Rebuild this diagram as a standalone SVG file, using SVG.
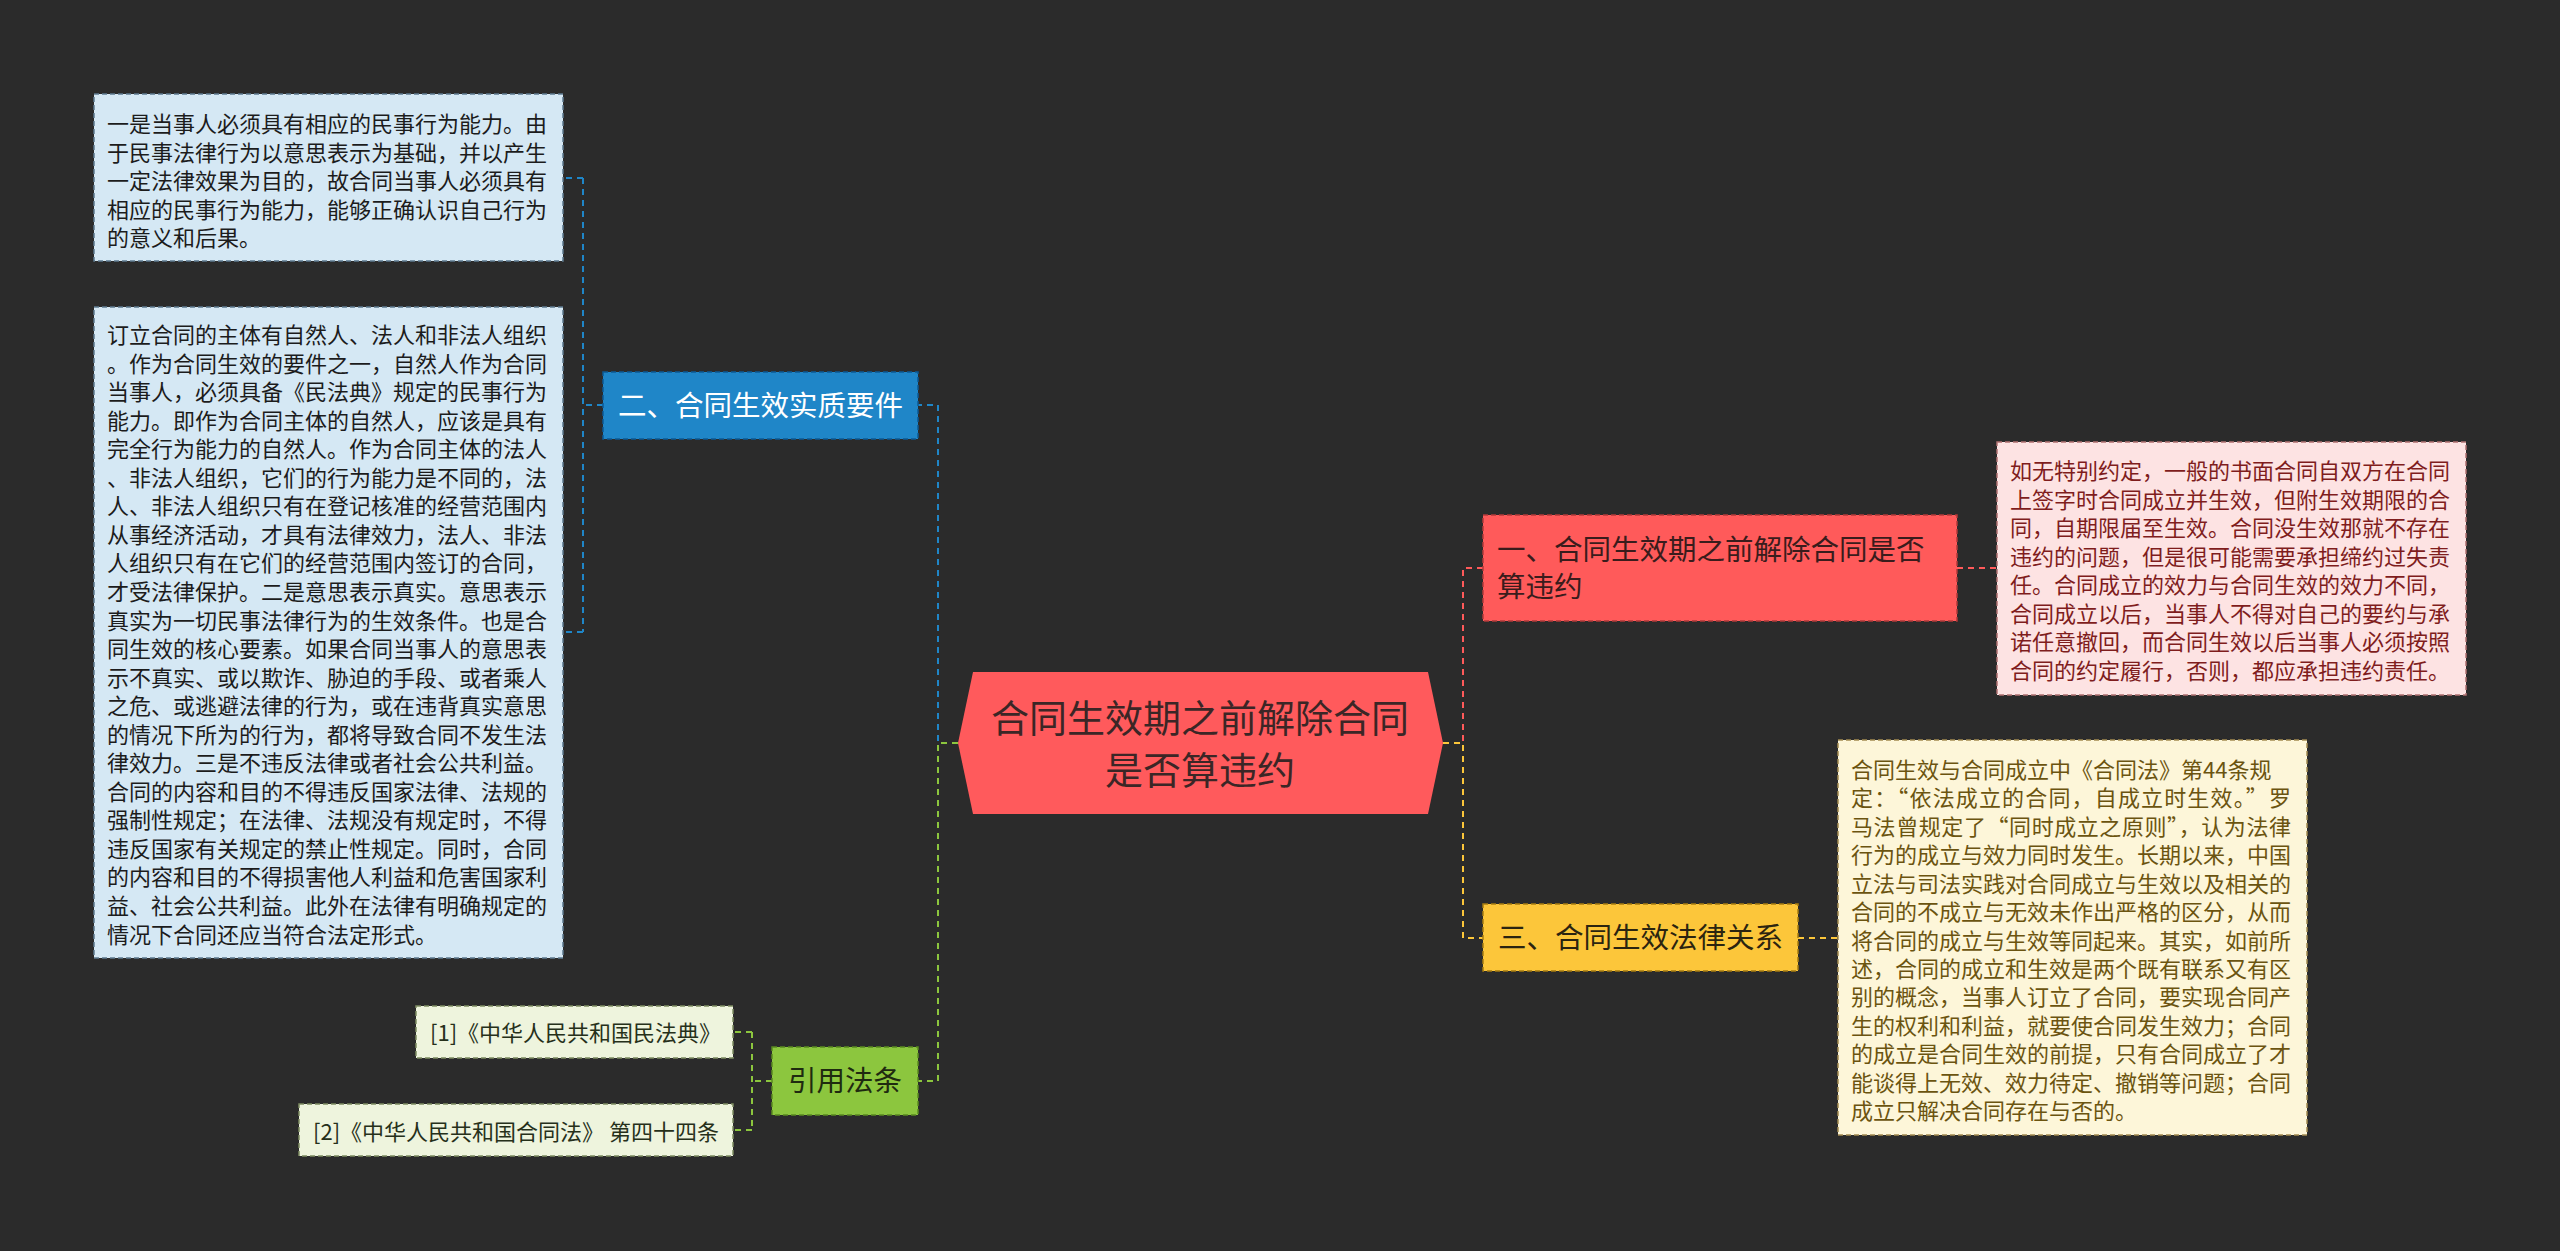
<svg xmlns="http://www.w3.org/2000/svg" width="2560" height="1251" viewBox="0 0 2560 1251">
<style>
text{font-family:"Noto Sans CJK SC","Noto Sans",sans-serif;}
.body{font-size:22px;}
.node{font-size:28.5px;}
.conn{fill:none;stroke-width:2;stroke-dasharray:6 5;}
.bd{stroke-width:1.5;stroke-dasharray:5 3;}
</style>
<rect x="0" y="0" width="2560" height="1251" fill="#2b2b2b"/>
<g id="connectors">
<path class="conn" stroke="#1f86c8" d="M958,743 H938 V405 H918"/>
<path class="conn" stroke="#8cc63e" d="M958,743 H938 V1081 H918"/>
<path class="conn" stroke="#1f86c8" d="M603,405 H583 M583,178 V632 M583,178 H563 M583,632 H563"/>
<path class="conn" stroke="#8cc63e" d="M772,1081 H752 M752,1032 V1130 M752,1032 H733 M752,1130 H733"/>
<path class="conn" stroke="#ff5a5a" d="M1443,743 H1463 V568 H1483"/>
<path class="conn" stroke="#fcc63a" d="M1443,743 H1463 V938 H1483"/>
<path class="conn" stroke="#ff5a5a" d="M1957,568 H1997"/>
<path class="conn" stroke="#fcc63a" d="M1798,938 H1838"/>
</g>
<g id="center">
<polygon points="973,672 1428,672 1443,743 1428,814 973,814 958,743" fill="#ff5a5c"/>
<text x="1200" y="732" font-size="38" fill="#3b2626" text-anchor="middle">合同生效期之前解除合同</text>
<text x="1200" y="784" font-size="38" fill="#3b2626" text-anchor="middle">是否算违约</text>
</g>
<g id="n2">
<rect class="bd" x="603" y="372" width="315" height="67" fill="#1f86c8" stroke="#0d5a94"/>
<text class="node" x="618" y="416" fill="#ffffff">二、合同生效实质要件</text>
</g>
<g id="n2a">
<rect class="bd" x="94" y="94" width="469" height="167" fill="#d5e8f4" stroke="#5d7a8e"/>
<text class="body" fill="#1c1c1c"><tspan x="107" y="132">一是当事人必须具有相应的民事行为能力。由</tspan><tspan x="107" dy="28.5">于民事法律行为以意思表示为基础，并以产生</tspan><tspan x="107" dy="28.5">一定法律效果为目的，故合同当事人必须具有</tspan><tspan x="107" dy="28.5">相应的民事行为能力，能够正确认识自己行为</tspan><tspan x="107" dy="28.5">的意义和后果。</tspan></text>
</g>
<g id="n2b">
<rect class="bd" x="94" y="307" width="469" height="651" fill="#d5e8f4" stroke="#5d7a8e"/>
<text class="body" fill="#1c1c1c"><tspan x="107" y="343">订立合同的主体有自然人、法人和非法人组织</tspan><tspan x="107" dy="28.55">。作为合同生效的要件之一，自然人作为合同</tspan><tspan x="107" dy="28.55">当事人，必须具备《民法典》规定的民事行为</tspan><tspan x="107" dy="28.55">能力。即作为合同主体的自然人，应该是具有</tspan><tspan x="107" dy="28.55">完全行为能力的自然人。作为合同主体的法人</tspan><tspan x="107" dy="28.55">、非法人组织，它们的行为能力是不同的，法</tspan><tspan x="107" dy="28.55">人、非法人组织只有在登记核准的经营范围内</tspan><tspan x="107" dy="28.55">从事经济活动，才具有法律效力，法人、非法</tspan><tspan x="107" dy="28.55">人组织只有在它们的经营范围内签订的合同，</tspan><tspan x="107" dy="28.55">才受法律保护。二是意思表示真实。意思表示</tspan><tspan x="107" dy="28.55">真实为一切民事法律行为的生效条件。也是合</tspan><tspan x="107" dy="28.55">同生效的核心要素。如果合同当事人的意思表</tspan><tspan x="107" dy="28.55">示不真实、或以欺诈、胁迫的手段、或者乘人</tspan><tspan x="107" dy="28.55">之危、或逃避法律的行为，或在违背真实意思</tspan><tspan x="107" dy="28.55">的情况下所为的行为，都将导致合同不发生法</tspan><tspan x="107" dy="28.55">律效力。三是不违反法律或者社会公共利益。</tspan><tspan x="107" dy="28.55">合同的内容和目的不得违反国家法律、法规的</tspan><tspan x="107" dy="28.55">强制性规定；在法律、法规没有规定时，不得</tspan><tspan x="107" dy="28.55">违反国家有关规定的禁止性规定。同时，合同</tspan><tspan x="107" dy="28.55">的内容和目的不得损害他人利益和危害国家利</tspan><tspan x="107" dy="28.55">益、社会公共利益。此外在法律有明确规定的</tspan><tspan x="107" dy="28.55">情况下合同还应当符合法定形式。</tspan></text>
</g>
<g id="n4">
<rect class="bd" x="772" y="1047" width="146" height="68" fill="#8cc63e" stroke="#5a8a20"/>
<text class="node" x="845" y="1091" fill="#1f2a10" text-anchor="middle">引用法条</text>
</g>
<g id="n4a">
<rect class="bd" x="416" y="1006" width="317" height="52" fill="#eef4dd" stroke="#7d8c62"/>
<text class="body" x="430" y="1041" fill="#26301a">[1]《中华人民共和国民法典》</text>
</g>
<g id="n4b">
<rect class="bd" x="299" y="1104" width="434" height="52" fill="#eef4dd" stroke="#7d8c62"/>
<text class="body" x="313" y="1140" fill="#26301a">[2]《中华人民共和国合同法》 第四十四条</text>
</g>
<g id="n1">
<rect class="bd" x="1483" y="515" width="474" height="106" fill="#ff5a5a" stroke="#b03a3a"/>
<text class="node" fill="#3a1c1c"><tspan x="1497" y="560">一、合同生效期之前解除合同是否</tspan><tspan x="1497" y="597">算违约</tspan></text>
</g>
<g id="n1a">
<rect class="bd" x="1997" y="442" width="469" height="253" fill="#fde3e3" stroke="#b07272"/>
<text class="body" fill="#7f1d1d"><tspan x="2010" y="479">如无特别约定，一般的书面合同自双方在合同</tspan><tspan x="2010" dy="28.5">上签字时合同成立并生效，但附生效期限的合</tspan><tspan x="2010" dy="28.5">同，自期限届至生效。合同没生效那就不存在</tspan><tspan x="2010" dy="28.5">违约的问题，但是很可能需要承担缔约过失责</tspan><tspan x="2010" dy="28.5">任。合同成立的效力与合同生效的效力不同，</tspan><tspan x="2010" dy="28.5">合同成立以后，当事人不得对自己的要约与承</tspan><tspan x="2010" dy="28.5">诺任意撤回，而合同生效以后当事人必须按照</tspan><tspan x="2010" dy="28.5">合同的约定履行，否则，都应承担违约责任。</tspan></text>
</g>
<g id="n3">
<rect class="bd" x="1483" y="904" width="315" height="67" fill="#fcc63a" stroke="#a67c10"/>
<text class="node" x="1498" y="948" fill="#2b2410">三、合同生效法律关系</text>
</g>
<g id="n3a">
<rect class="bd" x="1838" y="740" width="469" height="395" fill="#fdf6d9" stroke="#a48c52"/>
<text class="body" fill="#6b5410" x="1851" y="778">合同生效与合同成立中《合同法》第44条规</text>
<text class="body" fill="#6b5410" x="1851" y="806.4" textLength="440" lengthAdjust="spacing">定：“依法成立的合同，自成立时生效。”罗</text>
<text class="body" fill="#6b5410" x="1851" y="834.8" textLength="440" lengthAdjust="spacing">马法曾规定了“同时成立之原则”，认为法律</text>
<text class="body" fill="#6b5410"><tspan x="1851" y="863.3">行为的成立与效力同时发生。长期以来，中国</tspan><tspan x="1851" dy="28.42">立法与司法实践对合同成立与生效以及相关的</tspan><tspan x="1851" dy="28.42">合同的不成立与无效未作出严格的区分，从而</tspan><tspan x="1851" dy="28.42">将合同的成立与生效等同起来。其实，如前所</tspan><tspan x="1851" dy="28.42">述，合同的成立和生效是两个既有联系又有区</tspan><tspan x="1851" dy="28.42">别的概念，当事人订立了合同，要实现合同产</tspan><tspan x="1851" dy="28.42">生的权利和利益，就要使合同发生效力；合同</tspan><tspan x="1851" dy="28.42">的成立是合同生效的前提，只有合同成立了才</tspan><tspan x="1851" dy="28.42">能谈得上无效、效力待定、撤销等问题；合同</tspan><tspan x="1851" dy="28.42">成立只解决合同存在与否的。</tspan></text>
</g>
</svg>
